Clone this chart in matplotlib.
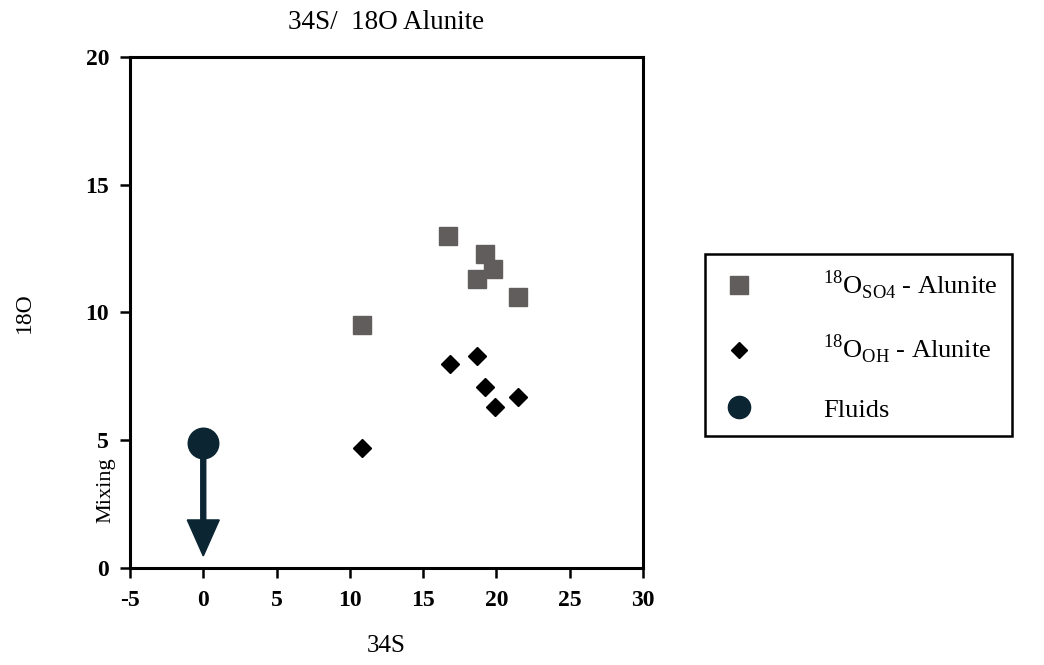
import matplotlib.pyplot as plt
from matplotlib.lines import Line2D

plt.rcParams['font.family'] = ['Liberation Serif', 'DejaVu Serif']
plt.rcParams['mathtext.fontset'] = 'custom'
plt.rcParams['mathtext.rm'] = 'Liberation Serif'
plt.rcParams['axes.unicode_minus'] = False

# d34S values shared by both alunite series
s34 = [10.8, 16.7, 19.2, 19.8, 18.7, 21.5]
# d18O of sulfate site
o18_so4 = [9.5, 13.0, 12.3, 11.7, 11.3, 10.6]
# d18O of hydroxyl site
s34_oh = [10.8, 16.8, 19.2, 19.9, 18.7, 21.5]
o18_oh = [4.7, 8.0, 7.1, 6.3, 8.3, 6.7]
# fluid end member and mixing trend
fluid_s = [0]
fluid_o = [4.9]
mix_end_o = 0.47

sq_color = '#625d5d'
fluid_color = '#0b2533'

fig = plt.figure(figsize=(10.44, 6.65), dpi=100)
ax = fig.add_axes([0.1245, 0.1459, 0.4914, 0.7684])

ax.plot(s34, o18_so4, 's', color=sq_color, ms=13, ls='none')
ax.plot(s34_oh, o18_oh, 'D', color='black', ms=9.5, ls='none')
ax.arrow(fluid_s[0], fluid_o[0], 0, mix_end_o - fluid_o[0], width=0.34,
         head_width=2.18, head_length=1.41, length_includes_head=True,
         color=fluid_color, zorder=3)
ax.plot(fluid_s, fluid_o, 'o', color=fluid_color, ms=22, zorder=4)

ax.set_xlim(-5, 30)
ax.set_ylim(0, 20)
ax.set_xticks(range(-5, 31, 5))
ax.set_yticks(range(0, 21, 5))
for sp in ax.spines.values():
    sp.set_linewidth(2.2)
ax.tick_params(direction='out', length=7, width=1.8, labelsize=17)
ax.tick_params(axis='x', pad=9)
ax.tick_params(axis='y', pad=8)
for lbl in ax.get_xticklabels() + ax.get_yticklabels():
    lbl.set_fontweight('bold')

ax.set_title('34S/  18O Alunite', fontsize=19.5, pad=20)
ax.set_xlabel('34S', fontsize=18, labelpad=17)
ax.set_ylabel('18O', fontsize=17, labelpad=36)
ax.text(-0.047, 0.153, 'Mixing', transform=ax.transAxes, rotation=90,
        ha='center', va='center', fontsize=16)

handles = [
    Line2D([], [], marker='s', color=sq_color, ms=13, ls='none'),
    Line2D([], [], marker='D', color='black', ms=8, ls='none'),
    Line2D([], [], marker='o', color=fluid_color, ms=16, ls='none'),
]
labels = [r'$^{18}$O$_{\mathrm{SO4}}$ - Alunite',
          r'$^{18}$O$_{\mathrm{OH}}$ - Alunite',
          'Fluids']
leg = fig.legend(handles, labels, loc='upper left',
                 bbox_to_anchor=(705 / 1044, 1 - 254 / 665),
                 borderaxespad=0, fontsize=19, labelspacing=1.2,
                 handlelength=1.48, handletextpad=2.45, borderpad=0.55,
                 fancybox=False, edgecolor='black', framealpha=1)
leg.get_frame().set_linewidth(1.8)

fig.savefig('out.png', dpi=100)
